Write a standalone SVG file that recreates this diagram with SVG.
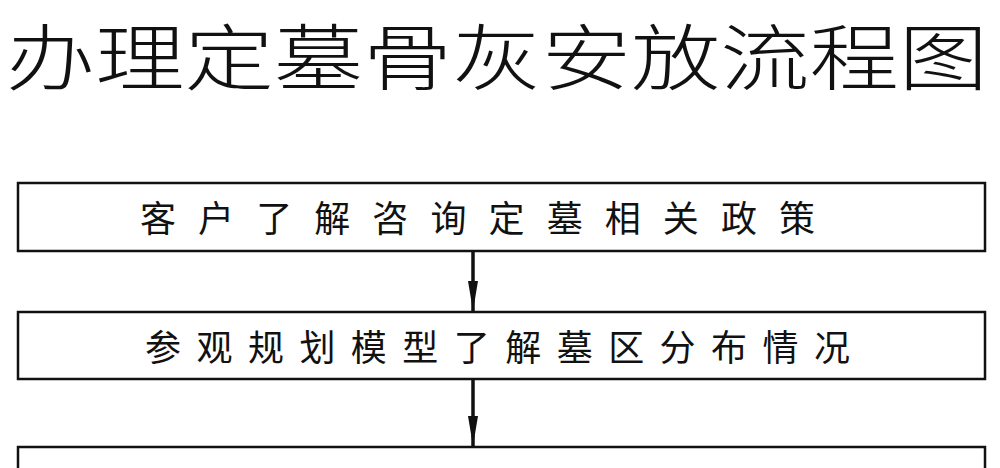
<svg xmlns="http://www.w3.org/2000/svg" width="1000" height="468" viewBox="0 0 1000 468">
<style>
.box{fill:#fff;stroke:#111;stroke-width:2.5}
.t{font-family:"Noto Sans CJK SC",sans-serif;font-size:36px;fill:#111}
.ttl{font-family:"Noto Sans CJK SC",sans-serif;font-size:72px;font-weight:300;fill:#111}
.c{stroke:#111;stroke-width:3.5}
</style>
<defs><marker id="ah" markerWidth="30" markerHeight="10" refX="30" refY="5" orient="auto" markerUnits="userSpaceOnUse" viewBox="0 0 30 10"><path d="M0,0 L30,5 L0,10 Z" fill="#111"/></marker></defs>
<rect width="1000" height="468" fill="#fff"/>
<text class="ttl" x="6" y="84" textLength="982" lengthAdjust="spacingAndGlyphs">办理定墓骨灰安放流程图</text>
<g id="n1"><rect class="box" x="18" y="183" width="967" height="68"/><text class="t" x="140" y="232" textLength="675" lengthAdjust="spacing">客户了解咨询定墓相关政策</text></g>
<g id="n2"><rect class="box" x="18" y="312" width="967" height="67"/><text class="t" x="145" y="361" textLength="705" lengthAdjust="spacing">参观规划模型了解墓区分布情况</text></g>
<g id="n3"><rect class="box" x="18" y="447" width="967" height="40"/></g>
<g id="connectors">
<line class="c" x1="473" y1="251" x2="473" y2="311" marker-end="url(#ah)"/>
<line class="c" x1="473" y1="379" x2="473" y2="446" marker-end="url(#ah)"/>
</g>
</svg>
